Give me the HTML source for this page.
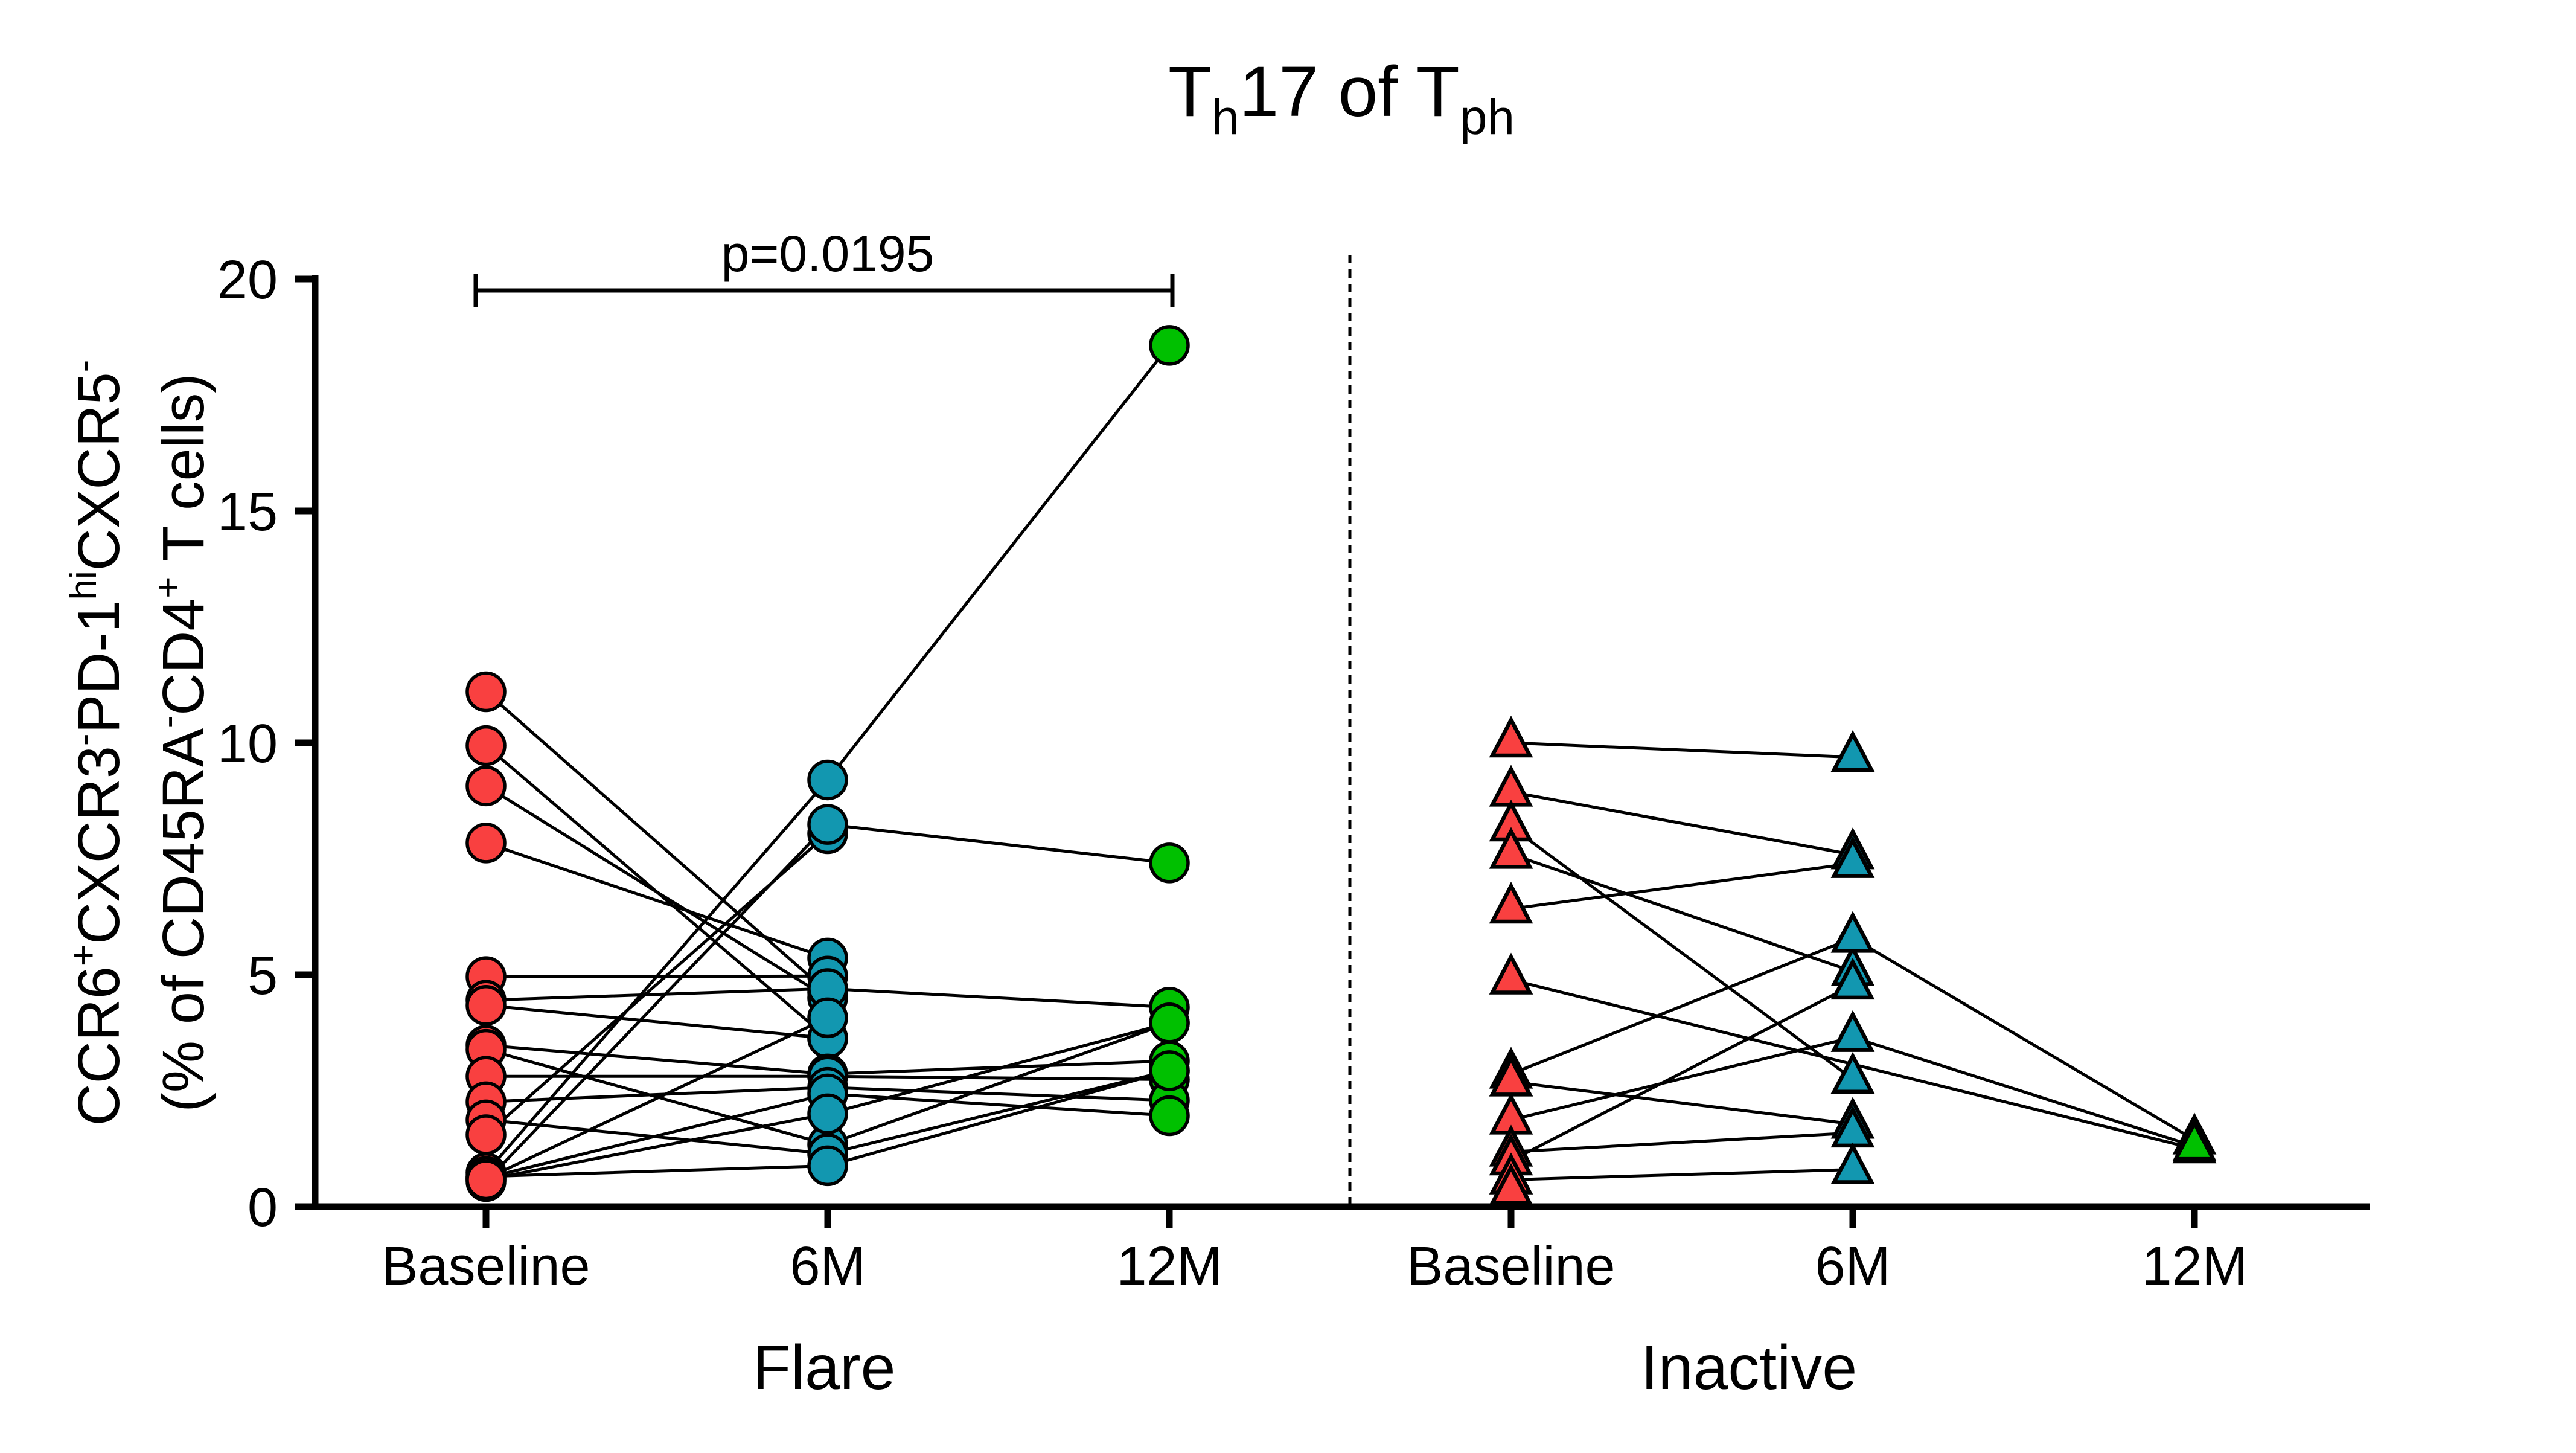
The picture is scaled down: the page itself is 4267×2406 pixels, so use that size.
<!DOCTYPE html>
<html><head><meta charset="utf-8"><style>
html,body{margin:0;padding:0;background:#fff;}
svg{display:block;font-family:"Liberation Sans",Arial,sans-serif;}
</style></head><body>
<svg id="chart" width="4267" height="2406" viewBox="0 0 4267 2406" xmlns="http://www.w3.org/2000/svg">
<rect width="4267" height="2406" fill="#fff"/>
<text x="2222" y="192" font-size="118" text-anchor="middle">T<tspan font-size="82" dy="30">h</tspan><tspan dy="-30">17 of T</tspan><tspan font-size="82" dy="30">ph</tspan></text>
<g font-size="97" text-anchor="middle">
<text transform="translate(197,1230) rotate(-90)">CCR6<tspan font-size="62" dy="-38">+</tspan><tspan dy="38">CXCR3</tspan><tspan font-size="62" dy="-38">-</tspan><tspan dy="38">PD-1</tspan><tspan font-size="62" dy="-38">hi</tspan><tspan dy="38">CXCR5</tspan><tspan font-size="62" dy="-38">-</tspan></text>
<text transform="translate(337,1230) rotate(-90)">(% of CD45RA<tspan font-size="62" dy="-38">-</tspan><tspan dy="38">CD4</tspan><tspan font-size="62" dy="-38">+</tspan><tspan dy="38"> T cells)</tspan></text>
</g>
<g id="axes"></g>
<g id="lines"></g>
<g id="marks"></g>
</svg>
<script>
const yTicks = [0, 5, 10, 15, 20];
const categories = ["Baseline", "6M", "12M", "Baseline", "6M", "12M"];
const groups = ["Flare", "Inactive"];
// Flare subjects: [baseline, 6M, 12M] (null = missing)
const flareBaseline = [11.1, 9.94, 9.07, 7.84, 4.96, 4.45, 4.34, 3.48, 3.39, 2.81, 2.26, 1.87, 1.55, 0.73, 0.54, 0.6, 0.62, 0.65, 0.58];
const flare6M       = [4.62, 3.63, 4.5, 5.36, 4.97, 4.7, 3.63, 2.86, 1.34, 2.81, 2.57, 1.14, 8.04, 9.2, 8.24, 4.07, 2.43, 0.88, 2.0];
const flare12M      = [null, null, null, null, null, 4.3, null, 3.14, 3.96, 2.74, 2.29, 2.93, null, 18.57, 7.41, null, 1.96, 2.93, 3.96];
// Inactive subjects
const inactBaseline = [10.0, 8.94, 8.19, 7.6, 6.42, 4.89, 2.86, 2.69, 1.87, 1.18, 0.99, 0.58, 0.35];
const inact6M       = [9.69, 7.59, 2.75, 5.07, 7.4, null, 5.79, 1.78, 3.65, 1.59, 4.78, 0.8, null];
const inact12M      = [null, null, null, null, null, 1.25, 1.44, null, 1.3, null, null, null, null];
const pLabel = "p=0.0195";

const NS = "http://www.w3.org/2000/svg";
const X0 = 522, XR = 3925, Y0 = 1998, Y20 = 462;
const catX = i => 805 + i * 566;
const groupX = [1365, 2897];
const yS = v => Y0 - (v - 0) / (20 - 0) * (Y0 - Y20);
function mk(tag, attrs, parent) { const e = document.createElementNS(NS, tag); for (const k in attrs) e.setAttribute(k, attrs[k]); parent.appendChild(e); return e; }
const axes = document.getElementById("axes"), lines = document.getElementById("lines"), marks = document.getElementById("marks");

let a = mk("line", {x1: X0, y1: Y20 - 6, x2: X0, y2: Y0 + 6, stroke: "#000", "stroke-width": 11}, axes);


a = mk("line", {x1: X0 - 6, y1: Y0, x2: XR, y2: Y0, stroke: "#000", "stroke-width": 11}, axes);


yTicks.forEach(t => {
  const tk = mk("line", {x1: 488, y1: yS(t), x2: X0, y2: yS(t), stroke: "#000", "stroke-width": 11}, axes);
  
  
  const tl = mk("text", {x: 460, y: yS(t) + 32, "font-size": 90, "text-anchor": "end"}, axes);
  tl.textContent = t;
  
  
});
categories.forEach((c, i) => {
  const tk = mk("line", {x1: catX(i), y1: Y0, x2: catX(i), y2: 2033, stroke: "#000", "stroke-width": 11}, axes);
  
  
  const tl = mk("text", {x: catX(i), y: 2127, "font-size": 90, "text-anchor": "middle"}, axes);
  tl.textContent = c;
  
  
});
groups.forEach((g, i) => {
  const gl = mk("text", {x: groupX[i], y: 2300, "font-size": 104, "text-anchor": "middle"}, axes);
  gl.textContent = g;
  
  
});
const dl = mk("line", {x1: 2236, y1: 422, x2: 2236, y2: Y0, stroke: "#000", "stroke-width": 5, "stroke-dasharray": "14 10"}, axes);


// significance bar
const sb = mk("path", {d: `M${catX(0)-17},453 V508 M${catX(0)-17},481 H${catX(2)+5} M${catX(2)+5},453 V508`, stroke: "#000", "stroke-width": 7, fill: "none"}, axes);


const pt = mk("text", {x: (catX(0) + catX(2)) / 2, y: 449, "font-size": 84, "text-anchor": "middle"}, axes);
pt.textContent = pLabel;



const colors = ["#F94040", "#1297B0", "#00C000"];
function drawSubjects(series, off, shape) {
  const n = series[0].length;
  for (let s = 0; s < n; s++) {
    const pts = [];
    series.forEach((arr, k) => { if (arr[s] !== null) pts.push([catX(off + k), yS(arr[s])]); });
    if (pts.length > 1) {
      const pl = mk("polyline", {points: pts.map(p => p.join(",")).join(" "), fill: "none", stroke: "#000", "stroke-width": 5}, lines);
      
      
    }
  }
  series.forEach((arr, k) => {
    arr.forEach(v => {
      if (v === null) return;
      const x = catX(off + k), y = yS(v);
      let m;
      if (shape === "circle") {
        m = mk("circle", {cx: x, cy: y, r: 31, fill: colors[k], stroke: "#000", "stroke-width": 5.5}, marks);
        
      } else {
        m = mk("polygon", {points: `${x},${y-38} ${x-31},${y+21} ${x+31},${y+21}`, fill: colors[k], stroke: "#000", "stroke-width": 6.5, "stroke-linejoin": "miter"}, marks);
        
      }
      
    });
  });
}
drawSubjects([flareBaseline, flare6M, flare12M], 0, "circle");
drawSubjects([inactBaseline, inact6M, inact12M], 3, "triangle");
</script>
</body></html>
